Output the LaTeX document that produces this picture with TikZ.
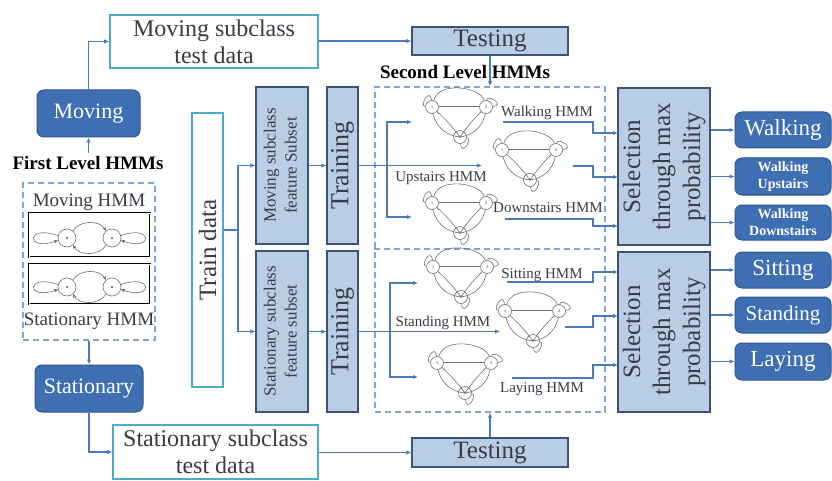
\documentclass[tikz,border=0pt]{standalone}
\usepackage{fontspec}
\setmainfont{LiberationSerif}[Extension=.ttf,UprightFont=*-Regular,BoldFont=*-Bold,ItalicFont=*-Italic,BoldItalicFont=*-BoldItalic]
\usetikzlibrary{arrows.meta,calc}
\definecolor{lineblue}{HTML}{4A7AB8}
\definecolor{teal1}{HTML}{4BACC6}
\definecolor{darkblue}{HTML}{3E6FB3}
\definecolor{darkborder}{HTML}{2E5590}
\definecolor{lightblue}{HTML}{B9CDE5}
\definecolor{lightborder}{HTML}{3A5578}
\definecolor{dashblue}{HTML}{80A6D6}
\definecolor{txtdark}{HTML}{3B3B45}
\definecolor{hmmgray}{HTML}{6E6E6E}
\newcommand{\fs}[2]{\fontsize{#1}{#2}\selectfont}
\begin{document}
\begin{tikzpicture}[x=1pt,y=1pt,
 arr/.style={draw=lineblue,line width=1.2pt,-{Latex[length=5pt,width=4.5pt]}},
 ln/.style={draw=lineblue,line width=1.2pt},
 tealbox/.style={draw=teal1,line width=1.6pt,fill=white,text=txtdark,align=center,inner sep=0pt},
 darkbox/.style={draw=darkborder,fill=darkblue,rounded corners=7pt,text=white,line width=1pt,inner sep=0pt,align=center},
 lightbox/.style={draw=lightborder,fill=lightblue,line width=1.3pt,text=txtdark,inner sep=0pt},
 dashbox/.style={draw=dashblue,line width=1.4pt,dash pattern=on 6pt off 4pt},
 st/.style={circle,draw=hmmgray,line width=0.6pt,fill=white,minimum size=13pt,inner sep=0pt,font=\fs{4}{4}},
 hl/.style={draw=hmmgray,line width=0.6pt},
 fl/.style={circle,draw=hmmgray,line width=0.6pt,minimum size=18pt,inner sep=0pt},
 hmmlbl/.style={text=txtdark,font=\fs{15}{17}},
 tip/.style={-{Stealth[length=4pt,width=3.5pt]}},
 hmm/.pic={
  \node[st] (-a) at (0,0) {1};
  \node[st] (-b) at (54,0) {2};
  \node[st] (-c) at (28,-30) {3};
  \draw[hl] (-a) to[out=75,in=105,looseness=1] (-b);
  \draw[hl,double=white,double distance=0.8pt] (-a) -- (-b);
  \draw[hl] (-a) to[bend right=35] (-c);
  \draw[hl] (-a) to[bend left=5] (-c);
  \draw[hl] (-b) to[bend left=35] (-c);
  \draw[hl] (-b) to[bend right=5] (-c);
  \draw[hl] (-a) to[out=95,in=175,looseness=5] (-a);
  \draw[hl] (-b) to[out=5,in=85,looseness=5] (-b);
  \draw[hl] (-c) to[out=-85,in=-5,looseness=5] (-c);
 },
 flhmm/.pic={
  \node[fl] (-a) at (-22.5,0) {};
  \node[fl] (-b) at (22.5,0) {};
  \fill (-a.center) circle (0.9pt);
  \fill (-b.center) circle (0.9pt);
  \draw[hl,tip] (-a.50) .. controls (-10,18) and (10,18) .. (-b.130);
  \draw[hl,tip] (-b.230) .. controls (10,-18) and (-10,-18) .. (-a.310);
  \draw[hl,tip] (-a.165) .. controls (-64,14) and (-64,-14) .. (-a.195);
  \draw[hl,tip] (-b.15) .. controls (64,14) and (64,-14) .. (-b.345);
 }
]
\useasboundingbox (0,0) rectangle (832,480);

% dashed containers
\node[dashbox,minimum width=132,minimum height=157,inner sep=0pt] (fdash) at (89,218.5) {};
\node[dashbox,minimum width=230,minimum height=325,inner sep=0pt] (sdash) at (490,230.5) {};
\coordinate (midl) at (490,231);
\draw[dashbox] (sdash.west |- midl) -- (sdash.east |- midl);

% left column
\node[tealbox,minimum width=208,minimum height=53,font=\fs{24}{27}] (mtest) at (214,438.5) {Moving subclass\\test data};
\node[darkbox,minimum width=103,minimum height=47,font=\fs{22}{24}] (moving) at (88.5,366.5) {Moving};
\node[font=\bfseries\fs{19}{21}] (firstlbl) at (88,317) {First Level HMMs};
\node[text=txtdark,font=\fs{19}{21}] (movlbl) at (89,278) {Moving HMM};
\node[draw,line width=0.7pt,double=white,double distance=0.8pt,minimum width=121,minimum height=44,inner sep=0pt] (box1) at (89.5,245) {};
\node[draw,line width=0.7pt,double=white,double distance=0.8pt,minimum width=121,minimum height=40,inner sep=0pt] (box2) at (89.5,196) {};
\pic (m1) at (89.5,242) {flhmm};
\pic (s1) at (89.5,193) {flhmm};
\node[text=txtdark,font=\fs{19}{21}] (statlbl) at (89,159) {Stationary HMM};
\node[darkbox,minimum width=108,minimum height=47,font=\fs{22}{24}] (stat) at (89,91.5) {Stationary};
\node[tealbox,minimum width=205,minimum height=54,font=\fs{24}{27}] (stest) at (215.5,28) {Stationary subclass\\test data};

% testing boxes
\node[lightbox,minimum width=156,minimum height=28,font=\fs{25}{27}] (testtop) at (490,439) {Testing};
\node[lightbox,minimum width=156,minimum height=29,font=\fs{25}{27}] (testbot) at (490,27.5) {Testing};
\node[font=\bfseries\fs{19}{21}] (seclbl) at (465,408) {Second Level HMMs};

% training column
\node[tealbox,minimum width=31,minimum height=274,font=\fs{25}{27}] (train) at (207.5,230) {\rotatebox{90}{Train data}};
\node[lightbox,minimum width=52,minimum height=157,font=\fs{17}{21}] (mfeat) at (282,314.5) {\rotatebox{90}{\begin{tabular}{@{}c@{}}Moving subclass\\feature Subset\end{tabular}}};
\node[lightbox,minimum width=52,minimum height=161,font=\fs{17}{21}] (sfeat) at (282,148.5) {\rotatebox{90}{\begin{tabular}{@{}c@{}}Stationary subclass\\feature subset\end{tabular}}};
\node[lightbox,minimum width=31,minimum height=157,font=\fs{26}{28}] (train1) at (342.5,314.5) {\rotatebox{90}{Training}};
\node[lightbox,minimum width=31,minimum height=161,font=\fs{26}{28}] (train2) at (342.5,148.5) {\rotatebox{90}{Training}};

% second level HMMs
\pic (h1) at (432,373) {hmm};
\pic (h2) at (502,330) {hmm};
\pic (h3) at (432,277) {hmm};
\pic (h4) at (433,213) {hmm};
\pic (h5) at (505,169) {hmm};
\pic (h6) at (437,117) {hmm};
\node[hmmlbl] (l1) at (547,367) {Walking HMM};
\node[hmmlbl] (l2) at (441,302) {Upstairs HMM};
\node[hmmlbl] (l3) at (548,272) {Downstairs HMM};
\node[hmmlbl] (l4) at (542,205) {Sitting HMM};
\node[hmmlbl] (l5) at (443,157) {Standing HMM};
\node[hmmlbl] (l6) at (542,91) {Laying HMM};

% selection boxes
\node[lightbox,minimum width=92,minimum height=157,font=\fs{25}{30}] (sel1) at (664,313.5) {\rotatebox{90}{\begin{tabular}{@{}c@{}}Selection\\through max\\probability\end{tabular}}};
\node[lightbox,minimum width=92,minimum height=160,font=\fs{25}{30}] (sel2) at (664,148) {\rotatebox{90}{\begin{tabular}{@{}c@{}}Selection\\through max\\probability\end{tabular}}};

% outputs
\node[darkbox,minimum width=96,minimum height=36,font=\fs{23}{25}] (walk) at (783,350) {Walking};
\node[darkbox,minimum width=96,minimum height=37,font=\bfseries\fs{14}{17}] (wup) at (783,303.5) {Walking\\Upstairs};
\node[darkbox,minimum width=96,minimum height=35,font=\bfseries\fs{14}{17}] (wdown) at (783,257.5) {Walking\\Downstairs};
\node[darkbox,minimum width=96,minimum height=36,font=\fs{23}{25}] (sit) at (783,210) {Sitting};
\node[darkbox,minimum width=96,minimum height=36,font=\fs{21}{23}] (stand) at (783,165) {Standing};
\node[darkbox,minimum width=96,minimum height=37,font=\fs{23}{25}] (lay) at (783,118.5) {Laying};

% connectors: left
\draw[arr] (moving.north) |- (mtest.west);
\draw[arr] (moving.south |- firstlbl.north) -- (moving.south);
\draw[arr] (fdash.south) -- (stat.north);
\draw[arr] (stat.south) |- (stest.west);
\draw[arr] (mtest.east |- testtop.west) -- (testtop.west);
\draw[arr] (stest.east |- testbot.west) -- (testbot.west);
\draw[arr] (testtop.south) -- (sdash.north);
\draw[arr] (testbot.north) -- (sdash.south);

% train data branching
\coordinate (tb) at (238,250);
\draw[ln] (train.east |- tb) -- (tb);
\draw[arr] (tb) |- (mfeat.west);
\draw[arr] (tb) |- (sfeat.west);
\draw[arr] (mfeat.east) -- (train1.west);
\draw[arr] (sfeat.east) -- (train2.west);

% into second level HMMs
\coordinate (h2in) at (482,314.5);
\coordinate (b1) at (387,314.5);
\coordinate (h1in) at (412,358);
\coordinate (h3in) at (412,263);
\draw[arr] (train1.east) -- (h2in);
\draw[arr] (b1) |- (h1in);
\draw[arr] (b1) |- (h3in);
\coordinate (h5in) at (500,148.5);
\coordinate (b2) at (390,148.5);
\coordinate (h4in) at (418,197);
\coordinate (h6in) at (418,103);
\draw[arr] (train2.east) -- (h5in);
\draw[arr] (b2) |- (h4in);
\draw[arr] (b2) |- (h6in);

% HMM outputs to selection
\coordinate (o1) at (503,358); \coordinate (s1a) at (618,347);
\coordinate (o2) at (573,314); \coordinate (s1b) at (618,303);
\coordinate (o3) at (505,261); \coordinate (s1c) at (618,254);
\coordinate (o4) at (507,198); \coordinate (s2a) at (618,208);
\coordinate (o5) at (565,153); \coordinate (s2b) at (618,164);
\coordinate (o6) at (512,102); \coordinate (s2c) at (618,115);
\draw[arr] (o1) -- (593,358) |- (s1a);
\draw[arr] (o2) -- (593,314) |- (s1b);
\draw[arr] (o3) -- (593,261) |- (s1c);
\draw[arr] (o4) -- (593,198) |- (s2a);
\draw[arr] (o5) -- (593,153) |- (s2b);
\draw[arr] (o6) -- (593,102) |- (s2c);

% selection to outputs
\draw[arr] (sel1.east |- walk.west) -- (walk.west);
\draw[arr] (sel1.east |- wup.west) -- (wup.west);
\draw[arr] (sel1.east |- wdown.west) -- (wdown.west);
\draw[arr] (sel2.east |- sit.west) -- (sit.west);
\draw[arr] (sel2.east |- stand.west) -- (stand.west);
\draw[arr] (sel2.east |- lay.west) -- (lay.west);
\end{tikzpicture}
\end{document}
